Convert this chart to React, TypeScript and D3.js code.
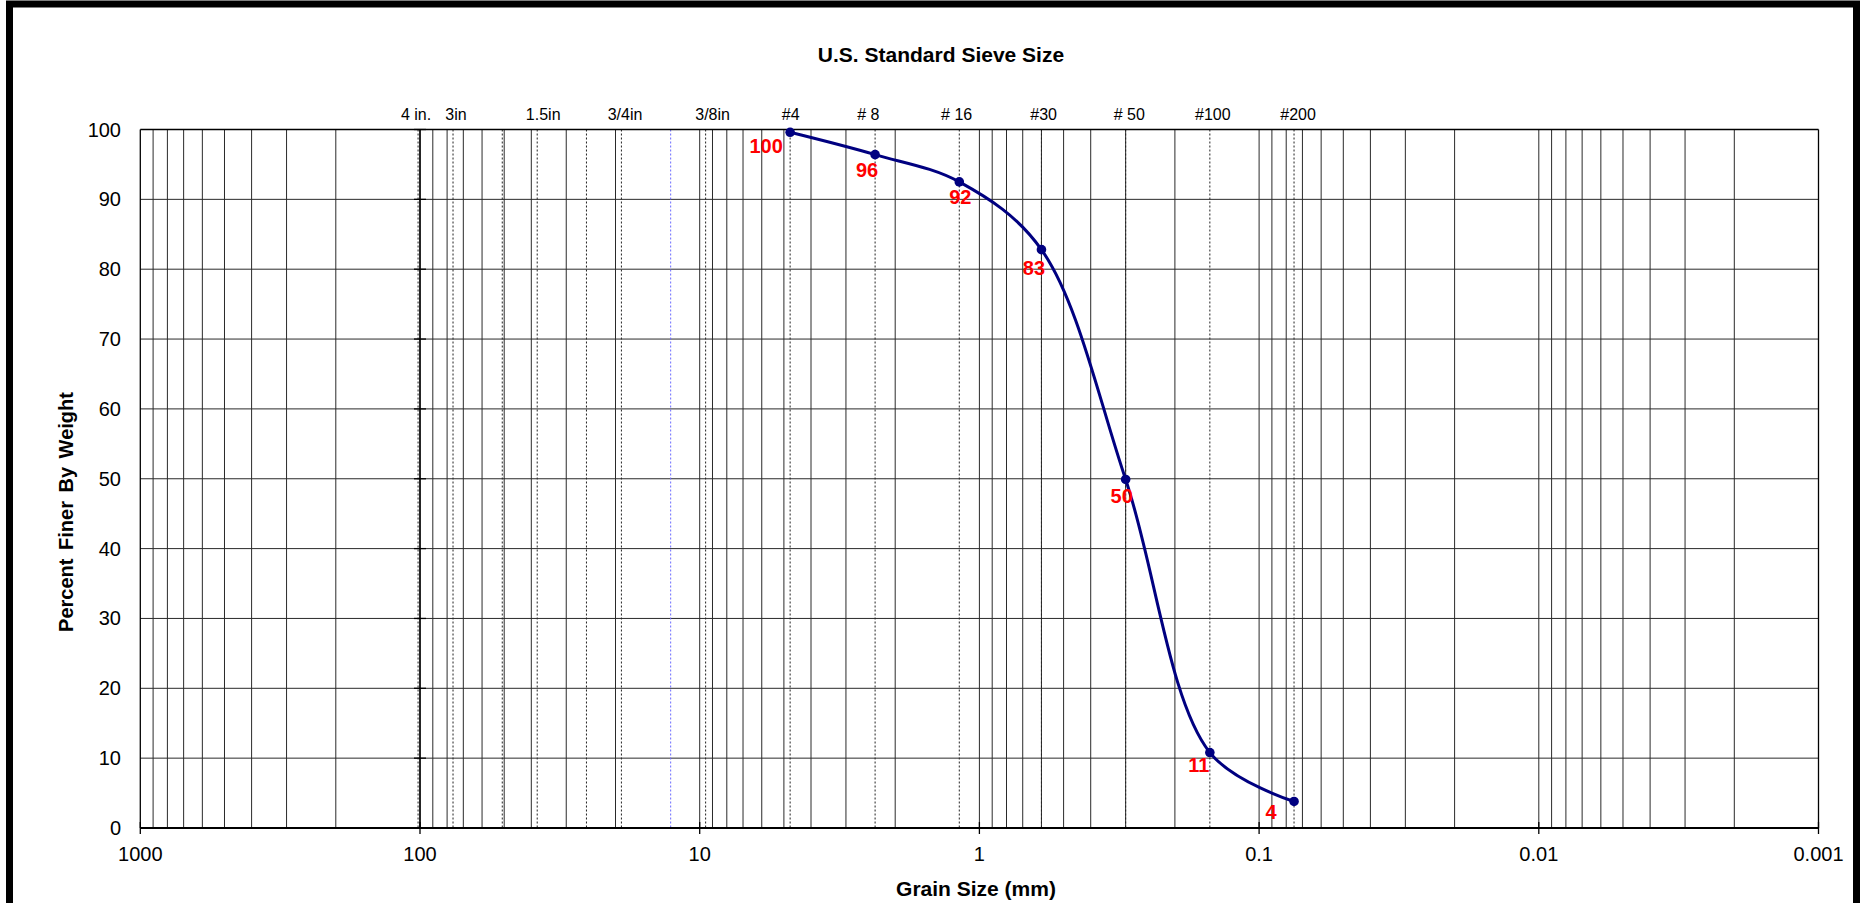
import React from "react";
import * as d3 from "d3";

// ---------- data ----------
const decadeTicks = [1000, 100, 10, 1, 0.1, 0.01, 0.001];
const decadeTickLabels = ["1000", "100", "10", "1", "0.1", "0.01", "0.001"];
const percentTicks = [0, 10, 20, 30, 40, 50, 60, 70, 80, 90, 100];

const sieveLabels = ["4 in.", "3in", "1.5in", "3/4in", "3/8in", "#4", "# 8", "# 16", "#30", "# 50", "#100", "#200"];
const sieveSizes = [101.6, 76.2, 38.1, 19.05, 9.525, 4.75, 2.36, 1.18, 0.6, 0.3, 0.15, 0.075];
const unlabeledSieveSizes = [50.8, 25.4];
const halfInchSieve = [12.7];

const testSizes = [4.75, 2.36, 1.18, 0.6, 0.3, 0.15, 0.075];
const percentFiner = [99.6, 96.4, 92.5, 82.8, 49.9, 10.8, 3.8];
const pointLabels = ["100", "96", "92", "83", "50", "11", "4"];

// ---------- layout / style ----------
const W = 1866;
const H = 903;
const plot = { left: 140.3, right: 1818.5, top: 129.5, bottom: 828 };
const FONT = "'Liberation Sans', Arial, Helvetica, sans-serif";
const sieveLabelDx = [-2, 3, 6, 3.6, 7, 0.6, -6.7, -2.6, 2.2, 3.7, 3, 4];
const pointLabelOffsets: [number, number][] = [
  [-24, 21], [-8, 22], [1, 22.5], [-7.5, 25], [-4, 24], [-11, 19.5], [-23, 18],
];

export default function App() {
  const x = d3.scaleLog().domain([1000, 0.001]).range([plot.left, plot.right]);
  const y = d3.scaleLinear().domain([0, 100]).range([plot.bottom, plot.top]);

  // minor grid values n*10^k
  const gridVals: number[] = [];
  for (let k = -3; k < 3; k++) {
    for (let n = 1; n <= 9; n++) gridVals.push(n * Math.pow(10, k));
  }

  const pts: [number, number][] = testSizes.map((s, i) => [x(s), y(percentFiner[i])]);
  const line = d3.line().curve(d3.curveCatmullRom.alpha(0.5))(pts) || "";

  const gridColor = "#2a2a2a";

  return (
    <svg
      width={W}
      height={H}
      style={{ position: "absolute", left: 0, top: 0, display: "block", background: "#fff" }}
      fontFamily={FONT}
    >
      <rect x={0} y={0} width={W} height={H} fill="#fff" />
      {/* outer frame */}
      <path d={`M9.5,${H + 20} L9.5,4 L1856.5,4 L1856.5,${H + 20}`} fill="none" stroke="#000" strokeWidth={7} />

      {/* title */}
      <text x={941} y={62} textAnchor="middle" fontSize={21} fontWeight="bold">
        U.S. Standard Sieve Size
      </text>

      {/* horizontal grid */}
      {percentTicks.filter((v) => v > 0 && v < 100).map((v) => (
        <line key={"h" + v} x1={plot.left} x2={plot.right} y1={y(v)} y2={y(v)} stroke={gridColor} strokeWidth={1} />
      ))}

      {/* vertical grid */}
      {gridVals.filter((v) => v < 1000 && v > 0.001).map((v, i) => (
        <line key={"v" + i} x1={x(v)} x2={x(v)} y1={plot.top} y2={plot.bottom} stroke={gridColor} strokeWidth={1} />
      ))}

      {/* sieve lines */}
      {sieveSizes.map((s, i) => (
        <line key={"s" + i} x1={x(s)} x2={x(s)} y1={plot.top} y2={plot.bottom} stroke="#222" strokeWidth={1} strokeDasharray="2,2" />
      ))}
      {unlabeledSieveSizes.map((s, i) => (
        <line key={"u" + i} x1={x(s)} x2={x(s)} y1={plot.top} y2={plot.bottom} stroke="#222" strokeWidth={1} strokeDasharray="2,2" />
      ))}
      {halfInchSieve.map((s, i) => (
        <line key={"b" + i} x1={x(s)} x2={x(s)} y1={plot.top} y2={plot.bottom} stroke="#6a6aff" strokeWidth={1} strokeDasharray="2,2" />
      ))}

      {/* sieve labels */}
      {sieveLabels.map((lab, i) => (
        <text key={"sl" + i} x={x(sieveSizes[i]) + sieveLabelDx[i]} y={120} textAnchor="middle" fontSize={16}>
          {lab}
        </text>
      ))}

      {/* plot border */}
      <line x1={plot.left} x2={plot.right} y1={plot.top} y2={plot.top} stroke="#000" strokeWidth={1.3} />
      <line x1={plot.left} x2={plot.left} y1={plot.top} y2={plot.bottom} stroke="#000" strokeWidth={1.3} />
      <line x1={plot.right} x2={plot.right} y1={plot.top} y2={plot.bottom} stroke="#000" strokeWidth={1.3} />

      {/* value axis at 100 mm */}
      <line x1={x(100)} x2={x(100)} y1={plot.top} y2={plot.bottom} stroke="#000" strokeWidth={1.5} />
      {percentTicks.map((v) => (
        <line key={"yt" + v} x1={x(100) - 6} x2={x(100) + 6} y1={y(v)} y2={y(v)} stroke="#000" strokeWidth={1.3} />
      ))}

      {/* x axis */}
      <line x1={plot.left} x2={plot.right} y1={plot.bottom} y2={plot.bottom} stroke="#000" strokeWidth={2} />
      {decadeTicks.map((v) => (
        <line key={"xt" + v} x1={x(v)} x2={x(v)} y1={plot.bottom - 6} y2={plot.bottom + 6} stroke="#000" strokeWidth={1.3} />
      ))}
      {decadeTicks.map((v, i) => (
        <text key={"xl" + v} x={x(v)} y={861} textAnchor="middle" fontSize={20}>
          {decadeTickLabels[i]}
        </text>
      ))}

      {/* y tick labels */}
      {percentTicks.map((v) => (
        <text key={"yl" + v} x={121} y={y(v) + 7} textAnchor="end" fontSize={20}>
          {v}
        </text>
      ))}

      {/* axis titles */}
      <text x={976} y={896} textAnchor="middle" fontSize={21} fontWeight="bold">
        Grain Size (mm)
      </text>
      <text
        transform={`translate(73,512) rotate(-90)`}
        textAnchor="middle"
        fontSize={20}
        fontWeight="bold"
        wordSpacing={3}
      >
        Percent Finer By Weight
      </text>

      {/* gradation curve */}
      <path d={line} fill="none" stroke="#000080" strokeWidth={3} strokeLinejoin="round" />
      {pts.map((p, i) => (
        <circle key={"p" + i} cx={p[0]} cy={p[1]} r={4.8} fill="#000080" />
      ))}
      {pts.map((p, i) => (
        <text
          key={"pl" + i}
          x={p[0] + pointLabelOffsets[i][0]}
          y={p[1] + pointLabelOffsets[i][1]}
          textAnchor="middle"
          fontSize={20}
          fontWeight="bold"
          fill="#ff0000"
        >
          {pointLabels[i]}
        </text>
      ))}
    </svg>
  );
}
